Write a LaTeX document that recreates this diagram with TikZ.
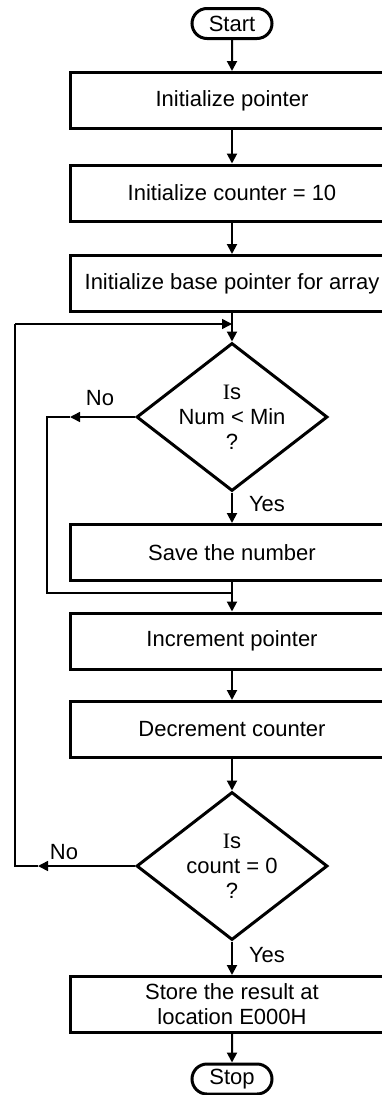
\documentclass[tikz,border=0pt]{standalone}
\usepackage{fontspec}
\setmainfont{Liberation Sans}
\newfontfamily\serifI{Liberation Serif}
\usetikzlibrary{shapes.geometric,shapes.misc,arrows.meta}
\begin{document}
\begin{tikzpicture}[x=1pt,y=-1pt,
  font=\fontsize{22}{25}\selectfont,
  procbox/.style={draw,line width=3pt,minimum width=324pt,minimum height=56pt,inner sep=0pt,align=center},
  term/.style={draw,rounded rectangle,line width=3pt,minimum width=80pt,minimum height=30pt,inner sep=0pt},
  decide/.style={draw,diamond,line width=3pt,minimum width=191pt,minimum height=148pt,inner sep=0pt},
  flow/.style={line width=2pt,-{Triangle[length=10pt,width=10pt]}},
  loopline/.style={line width=1.5pt},
  looparrow/.style={line width=1.5pt,-{Triangle[length=10pt,width=10pt]}},
  lbl/.style={inner sep=0pt}]
\useasboundingbox (0,0) rectangle (382,1095);
% nodes
\node[term] (start) at (232,23.5) {Start};
\node[procbox] (b1) at (232,100.5) {Initialize pointer};
\node[procbox] (b2) at (232,193) {Initialize counter = 10};
\node[procbox] (b3) at (232,283.5) {Initialize base pointer for array};
\node[decide] (d1) at (232,417) {};
\node[align=center,inner sep=0pt] (d1t) at (d1) {{\serifI I}s\\Num < Min\\?};
\node[procbox] (b4) at (232,552.5) {Save the number};
\node[procbox] (b5) at (232,641) {Increment pointer};
\node[procbox] (b6) at (232,729.5) {Decrement counter};
\node[decide] (d2) at (232,866) {};
\node[align=center,inner sep=0pt] (d2t) at (d2) {{\serifI I}s\\count = 0\\?};
\node[procbox] (b7) at (232,1004.5) {Store the result at\\location E000H};
\node[term] (stop) at (232,1079) {Stop};
% labels
\node[lbl] (no1) at (100,398) {No};
\node[lbl] (yes1) at (267,504) {Yes};
\node[lbl] (no2) at (64,852) {No};
\node[lbl] (yes2) at (267,955) {Yes};
% coordinates
\coordinate (j1) at (232,324);
\coordinate (j2) at (232,593);
\coordinate (a1) at (70,417);
\coordinate (c1a) at (47,417);
\coordinate (c1b) at (47,593);
\coordinate (a2) at (38,866);
\coordinate (c2a) at (15,866);
\coordinate (c2b) at (15,324);
% main flow
\draw[flow] (start) -- (b1);
\draw[flow] (b1) -- (b2);
\draw[flow] (b2) -- (b3);
\draw[flow] (b3) -- (d1);
\draw[flow] (d1) -- (b4);
\draw[flow] (b4) -- (b5);
\draw[flow] (b5) -- (b6);
\draw[flow] (b6) -- (d2);
\draw[flow] (d2) -- (b7);
\draw[flow] (b7) -- (stop);
% loop for Num < Min : No
\draw[looparrow] (d1.west) -- (a1);
\draw[loopline] (a1) -- (c1a) -- (c1b) -- (j2);
% loop for count = 0 : No
\draw[looparrow] (d2.west) -- (a2);
\draw[loopline] (a2) -- (c2a) -- (c2b);
\draw[looparrow] (c2b) -- (j1);
\end{tikzpicture}
\end{document}
